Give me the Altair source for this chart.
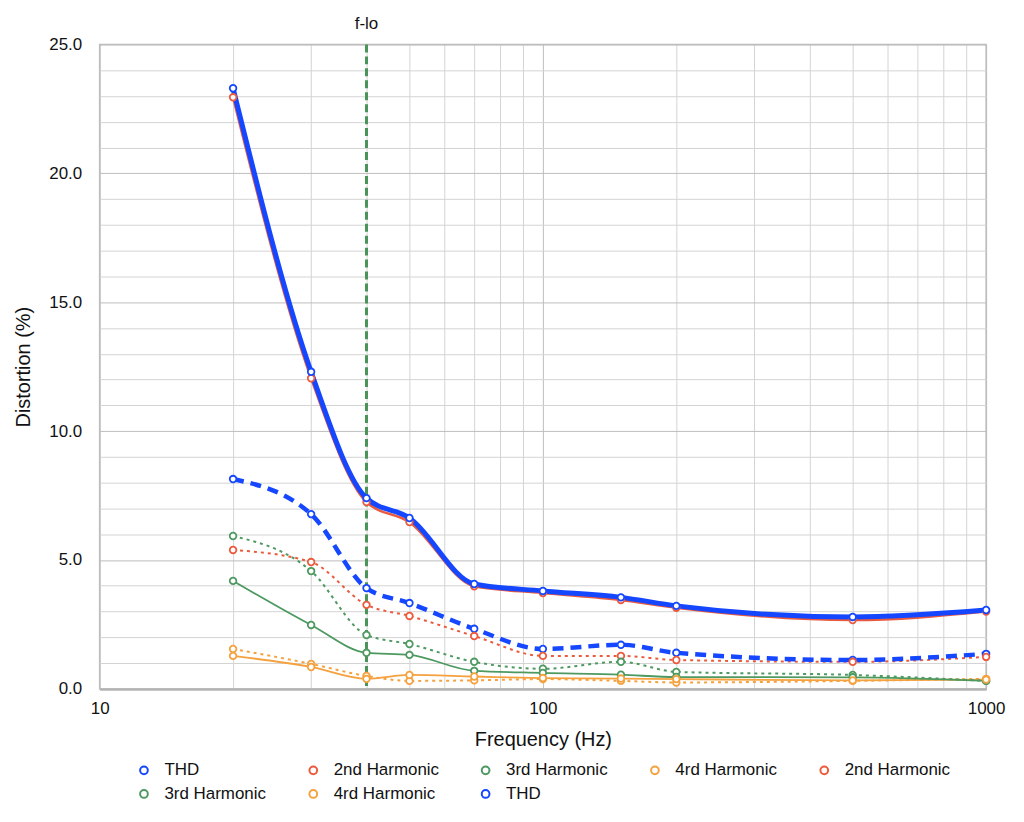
import altair as alt
import pandas as pd

# ---------------- data ----------------
freq = [20, 30, 40, 50, 70, 100, 150, 200, 500, 1000]

thd_dashed = [8.14, 6.78, 3.91, 3.33, 2.33, 1.55, 1.71, 1.40, 1.12, 1.36]
h2_dotted = [5.39, 4.92, 3.26, 2.83, 2.05, 1.28, 1.28, 1.12, 1.05, 1.24]
h3_dotted = [5.93, 4.57, 2.09, 1.74, 1.05, 0.78, 1.05, 0.66, 0.54, 0.31]
h4_dotted = [1.55, 0.97, 0.50, 0.31, 0.33, 0.38, 0.31, 0.25, 0.31, 0.39]

thd_solid = [23.30, 12.30, 7.40, 6.63, 4.07, 3.80, 3.55, 3.22, 2.79, 3.06]
h2_solid = [22.95, 12.05, 7.25, 6.47, 3.98, 3.72, 3.45, 3.15, 2.67, 3.00]
h3_solid = [4.19, 2.48, 1.40, 1.32, 0.70, 0.62, 0.55, 0.46, 0.45, 0.31]
h4_solid = [1.28, 0.85, 0.39, 0.54, 0.48, 0.42, 0.40, 0.38, 0.33, 0.36]

series_keys = ["a_THD", "a_2nd", "a_3rd", "a_4rd", "b_2nd", "b_3rd", "b_4rd", "b_THD"]
series_names = ["THD", "2nd Harmonic", "3rd Harmonic", "4rd Harmonic",
                "2nd Harmonic", "3rd Harmonic", "4rd Harmonic", "THD"]
series_values = [thd_dashed, h2_dotted, h3_dotted, h4_dotted,
                 h2_solid, h3_solid, h4_solid, thd_solid]

f_lo = [40]
f_lo_label = "f-lo"

x_grid_values = [10, 20, 30, 40, 50, 60, 70, 80, 90,
                 100, 200, 300, 400, 500, 600, 700, 800, 900, 1000]
y_grid_values = list(range(0, 26))

# ---------------- styles ----------------
BLUE = "#1447ff"
RED = "#ec5a3d"
GREEN = "#4d9960"
ORANGE = "#f5a13e"
series_colors = [BLUE, RED, GREEN, ORANGE, RED, GREEN, ORANGE, BLUE]

style = {
    "a_THD": dict(strokeWidth=4.5, strokeDash=[11, 7]),
    "a_2nd": dict(strokeWidth=2, strokeDash=[3, 4]),
    "a_3rd": dict(strokeWidth=2, strokeDash=[3, 4]),
    "a_4rd": dict(strokeWidth=2, strokeDash=[3, 4]),
    "b_2nd": dict(strokeWidth=2.5),
    "b_3rd": dict(strokeWidth=1.8),
    "b_4rd": dict(strokeWidth=1.8),
    "b_THD": dict(strokeWidth=5),
}
draw_order = ["a_4rd", "b_4rd", "a_3rd", "b_3rd", "a_2nd", "a_THD", "b_2nd", "b_THD"]

rows = []
for key, vals in zip(series_keys, series_values):
    for f, v in zip(freq, vals):
        rows.append({"freq": f, "value": v, "series": key})
df = pd.DataFrame(rows)

FONT = "Liberation Sans"

x_enc = alt.X(
    "freq:Q",
    scale=alt.Scale(type="log", domain=[10, 1000], nice=False),
    axis=alt.Axis(
        title="Frequency (Hz)",
        values=x_grid_values,
        labelExpr="indexof([10,100,1000], datum.value) >= 0 ? format(datum.value, 'd') : ''",
        ticks=False,
        grid=True,
        gridColor={"condition": {"test": "indexof([10,100,1000], datum.value) >= 0",
                                 "value": "#bcbcbc"}, "value": "#d4d4d4"},
        gridWidth=1,
        domainColor="#b4b4b4",
        domainWidth=2.5,
        labelFlush=False,
        labelOverlap=False,
        labelPadding=12,
        titlePadding=13,
        labelFont=FONT, titleFont=FONT, labelFontSize=17, titleFontSize=20,
        labelColor="#111111", titleColor="#111111", titleFontWeight="normal",
    ),
)
y_enc = alt.Y(
    "value:Q",
    scale=alt.Scale(domain=[0, 25], nice=False),
    axis=alt.Axis(
        title="Distortion (%)",
        values=y_grid_values,
        labelExpr="datum.value % 5 == 0 ? format(datum.value, '.1f') : ''",
        ticks=False,
        domain=False,
        grid=True,
        gridColor={"condition": {"test": "datum.value % 5 == 0",
                                 "value": "#bcbcbc"}, "value": "#d4d4d4"},
        gridWidth=1,
        labelPadding=18,
        labelOverlap=False,
        titlePadding=15,
        labelFont=FONT, titleFont=FONT, labelFontSize=17, titleFontSize=20,
        labelColor="#111111", titleColor="#111111", titleFontWeight="normal",
    ),
)

base = alt.Chart(df)

rule_df = pd.DataFrame({"freq": f_lo})
rule = alt.Chart(rule_df).mark_rule(
    color="#4a9459", strokeWidth=3, strokeDash=[8, 4]
).encode(x=x_enc)

flo_text = alt.Chart(rule_df).mark_text(
    text=f_lo_label, font=FONT, fontSize=17, color="#111111", baseline="middle"
).encode(x=x_enc, y=alt.value(-21))

line_layers = []
for key in draw_order:
    idx = series_keys.index(key)
    line_layers.append(
        base.transform_filter(alt.datum.series == key)
        .mark_line(interpolate="monotone", color=series_colors[idx], **style[key])
        .encode(x=x_enc, y=y_enc)
    )

names_js = "[" + ",".join("'%s'" % n for n in series_names) + "]"
keys_js = "[" + ",".join("'%s'" % k for k in series_keys) + "]"

points = base.mark_point(
    shape="circle", filled=False, fill="white", fillOpacity=1,
    size=44, strokeWidth=1.8, opacity=1
).encode(
    x=x_enc,
    y=y_enc,
    color=alt.Color(
        "series:N",
        scale=alt.Scale(domain=series_keys, range=series_colors),
        legend=alt.Legend(
            title=None,
            orient="none",
            direction="horizontal",
            legendX=36,
            legendY=720,
            columns=5,
            columnPadding=38,
            rowPadding=6,
            labelExpr=names_js + "[indexof(" + keys_js + ", datum.label)]",
            labelFont=FONT,
            labelFontSize=17,
            labelColor="#111111",
            labelOffset=12,
            symbolType="circle",
            symbolSize=60,
            symbolStrokeWidth=2,
            symbolFillColor="white",
        ),
    ),
)

chart = alt.layer(rule, *line_layers, points, flo_text).properties(
    width=890,
    height=647,
    background="white",
    autosize=alt.AutoSizeParams(type="none"),
    padding={"left": 92, "top": 35, "right": 30, "bottom": 118},
).configure_view(
    stroke="#bdbdbd", strokeWidth=1.5
)

chart.save("out.html", embed_options={"renderer": "svg", "actions": False})
